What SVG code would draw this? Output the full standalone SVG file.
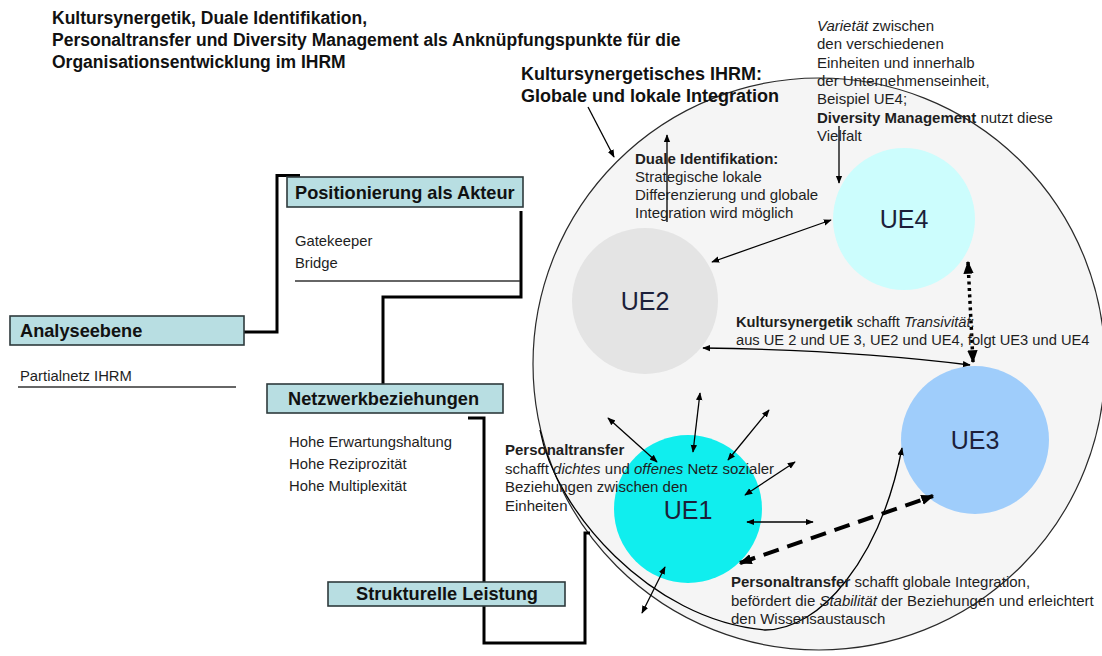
<svg xmlns="http://www.w3.org/2000/svg" width="1102" height="656" viewBox="0 0 1102 656">
<style>
text{font-family:"Liberation Sans",Arial,sans-serif;fill:#1e1e1e}
.title{font-size:17.5px;font-weight:bold;fill:#111}
.sub{font-size:18px;font-weight:bold;fill:#111}
.box{fill:#b8dee2;stroke:#2e3a3c;stroke-width:1.6}
.bl{font-size:18.2px;font-weight:bold;fill:#111}
.sm{font-size:14.8px}
.t{font-size:15px}
.b{font-weight:bold}
.i{font-style:italic}
.ue{font-size:25px;fill:#1c1f3a;text-anchor:middle}
.conn{fill:none;stroke:#000;stroke-width:3}
.thin{fill:none;stroke:#000;stroke-width:1.3}
.rule{stroke:#333;stroke-width:1.6}
</style>
<defs>
<marker id="a" viewBox="0 0 10 10" refX="9" refY="5" markerWidth="8" markerHeight="8" markerUnits="userSpaceOnUse" orient="auto-start-reverse"><path d="M0,1 L10,5 L0,9 z" fill="#000"/></marker>
<marker id="ab" viewBox="0 0 10 10" refX="9" refY="5" markerWidth="13" markerHeight="13" markerUnits="userSpaceOnUse" orient="auto-start-reverse"><path d="M0,1 L10,5 L0,9 z" fill="#000"/></marker>
</defs>

<g id="title">
<text class="title" x="52" y="24">Kultursynergetik, Duale Identifikation,</text>
<text class="title" x="52" y="46">Personaltransfer und Diversity Management als Anknüpfungspunkte für die</text>
<text class="title" x="52" y="68">Organisationsentwicklung im IHRM</text>
</g>

<g id="big-circle">
<circle cx="819" cy="364" r="286" fill="#f5f5f5" stroke="#2a2a2a" stroke-width="1.2"/>
</g>

<g id="ue2"><circle cx="645" cy="301" r="73" fill="#e4e4e4"/><text class="ue" x="645" y="310">UE2</text></g>
<g id="ue4"><circle cx="904" cy="219" r="71" fill="#ccfdfd"/><text class="ue" x="904" y="228">UE4</text></g>
<g id="ue3"><circle cx="975" cy="440" r="74" fill="#9fcdfb"/><text class="ue" x="975" y="449">UE3</text></g>
<g id="ue1"><circle cx="688" cy="509" r="74" fill="#10eeee"/><text class="ue" x="688" y="519">UE1</text></g>

<g id="connectors">
<path class="conn" d="M244,332 H277 V175.5 H300"/>
<path class="conn" d="M521,211 V297 H383 V384"/>
<path class="conn" d="M468,418 H484 V643 H585 V533 H590"/>
<path class="thin" marker-end="url(#a)" d="M588,107 L614,157"/>
<path class="thin" marker-end="url(#a)" d="M667,222 V135"/>
<path class="thin" marker-end="url(#a)" d="M839,126 V183"/>
<path class="thin" marker-start="url(#a)" marker-end="url(#a)" d="M712,262 L831,220"/>
<path fill="none" stroke="#000" stroke-width="3.5" stroke-dasharray="3,3.5" marker-start="url(#ab)" marker-end="url(#ab)" d="M968,262 L973,362"/>
<path class="thin" marker-start="url(#a)" marker-end="url(#a)" d="M703,348 Q850,350 970,365"/>
<path class="thin" marker-start="url(#a)" marker-end="url(#a)" d="M608,418 L657,462"/>
<path class="thin" marker-start="url(#a)" marker-end="url(#a)" d="M700,393 L693,452"/>
<path class="thin" marker-start="url(#a)" marker-end="url(#a)" d="M769,410 L728,460"/>
<path class="thin" marker-start="url(#a)" marker-end="url(#a)" d="M795,462 L745,495"/>
<path class="thin" marker-start="url(#a)" marker-end="url(#a)" d="M747,522 L813,522"/>
<path class="thin" marker-start="url(#a)" marker-end="url(#a)" d="M665,567 L642,613"/>
<path fill="none" stroke="#000" stroke-width="4" stroke-dasharray="16,9" marker-start="url(#ab)" marker-end="url(#ab)" d="M740,563 L933,496"/>
<path class="thin" marker-end="url(#a)" d="M540,430 C555,510 650,620 765,630 C820,630 880,560 902,448"/>
</g>

<g id="analyseebene">
<rect class="box" x="10" y="316" width="234" height="29"/>
<text class="bl" x="20" y="337">Analyseebene</text>
<text class="sm" x="20" y="381">Partialnetz IHRM</text>
<line class="rule" x1="18" y1="387" x2="236" y2="387"/>
</g>

<g id="positionierung">
<rect class="box" x="287" y="177" width="236" height="30"/>
<text class="bl" x="295" y="199">Positionierung als Akteur</text>
<text class="sm" x="295" y="246">Gatekeeper</text>
<text class="sm" x="295" y="268">Bridge</text>
<line class="rule" x1="295" y1="281" x2="520" y2="281"/>
</g>

<g id="netzwerk">
<rect class="box" x="267" y="384" width="236" height="29"/>
<text class="bl" x="288" y="405">Netzwerkbeziehungen</text>
<text class="sm" x="289" y="447">Hohe Erwartungshaltung</text>
<text class="sm" x="289" y="469">Hohe Reziprozität</text>
<text class="sm" x="289" y="491">Hohe Multiplexität</text>
</g>

<g id="strukturelle">
<rect class="box" x="328" y="582" width="237" height="24"/>
<text class="bl" x="447" y="600" text-anchor="middle">Strukturelle Leistung</text>
</g>

<g id="kultursynergetisches">
<text class="sub" x="521" y="80">Kultursynergetisches IHRM:</text>
<text class="sub" x="521" y="102">Globale und lokale Integration</text>
</g>

<g id="varietaet">
<text class="t" x="817" y="31"><tspan class="i">Varietät</tspan> zwischen</text>
<text class="t" x="817" y="49">den verschiedenen</text>
<text class="t" x="817" y="68">Einheiten und innerhalb</text>
<text class="t" x="817" y="86">der Unternehmenseinheit,</text>
<text class="t" x="817" y="104">Beispiel UE4;</text>
<text class="t" x="817" y="123"><tspan class="b">Diversity Management</tspan> nutzt diese</text>
<text class="t" x="817" y="141">Vielfalt</text>
</g>

<g id="duale">
<text class="t" x="635" y="164"><tspan class="b">Duale Identifikation:</tspan></text>
<text class="t" x="635" y="182">Strategische lokale</text>
<text class="t" x="635" y="200">Differenzierung und globale</text>
<text class="t" x="635" y="218">Integration wird möglich</text>
</g>

<g id="transitivitaet">
<text class="t" x="736" y="327" style="font-size:14.7px"><tspan class="b">Kultursynergetik</tspan> schafft <tspan class="i">Transivität</tspan>:</text>
<text class="t" x="736" y="345" style="font-size:14.7px">aus UE 2 und UE 3, UE2 und UE4, folgt UE3 und UE4</text>
</g>

<g id="personaltransfer1">
<text class="t" x="505" y="455"><tspan class="b">Personaltransfer</tspan></text>
<text class="t" x="505" y="474">schafft <tspan class="i">dichtes</tspan> und <tspan class="i">offenes</tspan> Netz sozialer</text>
<text class="t" x="505" y="492">Beziehungen zwischen den</text>
<text class="t" x="505" y="511">Einheiten</text>
</g>

<g id="personaltransfer2">
<text class="t" x="731" y="587"><tspan class="b">Personaltransfer</tspan> schafft globale Integration,</text>
<text class="t" x="731" y="606">befördert die <tspan class="i">Stabilität</tspan> der Beziehungen und erleichtert</text>
<text class="t" x="731" y="624">den Wissensaustausch</text>
</g>
</svg>
